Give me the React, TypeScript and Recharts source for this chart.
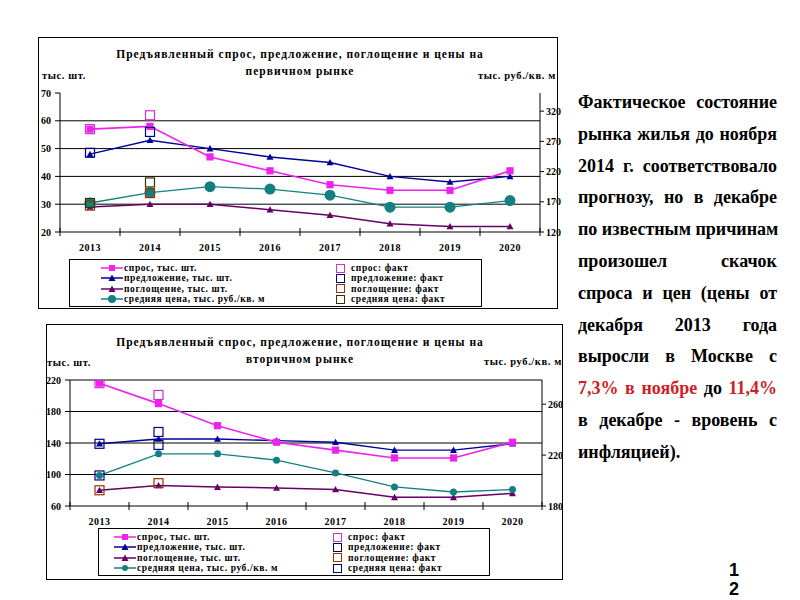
import React from 'react';
import { LineChart, Line, XAxis, YAxis, ReferenceLine } from 'recharts';

const years = ['2013', '2014', '2015', '2016', '2017', '2018', '2019', '2020'];

// первичный рынок
const primDemand = [57, 58, 47, 42, 37, 35, 35, 42];
const primDemandFact = [57, 62, null, null, null, null, null, null];
const primSupply = [48, 53, 50, 47, 45, 40, 38, 40];
const primSupplyFact = [48.5, 56, null, null, null, null, null, null];
const primAbsorb = [29, 30, 30, 28, 26, 23, 22, 22];
const primAbsorbFact = [29.5, 34, null, null, null, null, null, null];
const primPrice = [168, 185, 195, 191, 181, 161, 161, 172];
const primPriceFact = [168, 202, null, null, null, null, null, null];

// вторичный рынок
const secDemand = [216, 190, 162, 141, 131, 121, 121, 141];
const secDemandFact = [216, 201, null, null, null, null, null, null];
const secSupply = [139, 145, 145, 143, 141, 131, 131, 139];
const secSupplyFact = [139, 154, null, null, null, null, null, null];
const secAbsorb = [80, 86, 84, 83, 81, 71, 71, 76];
const secAbsorbFact = [80, 89, null, null, null, null, null, null];
const secPrice = [204, 221, 221, 216, 206, 195, 191, 193];
const secPriceFact = [204, 228, null, null, null, null, null, null];

const primLeftTicks = [20, 30, 40, 50, 60, 70];
const primRightTicks = [120, 170, 220, 270, 320];
const primGrid = [30, 40, 50, 60];
const secLeftTicks = [60, 100, 140, 180, 220];
const secRightTicks = [180, 220, 260];
const secGrid = [100, 140, 180, 220];

const legendLeft = ['спрос, тыс. шт.', 'предложение, тыс. шт.', 'поглощение, тыс. шт.', 'средняя цена, тыс. руб./кв. м'];
const legendRight = ['спрос: факт', 'предложение: факт', 'поглощение: факт', 'средняя цена: факт'];

const noteLines = [
  'Фактическое состояние',
  'рынка жилья до ноября',
  '2014 г. соответствовало',
  'прогнозу, но в декабре',
  'по известным причинам',
  'произошел скачок',
  'спроса и цен (цены от',
  'декабря 2013 года',
  'выросли в Москве с',
  'RED',
  'в декабре  - вровень с',
  'инфляцией).',
];

const C = {
  demand: '#ee22ee',
  supply: '#000099',
  absorb: '#660066',
  price: '#128080',
  demandFact: '#cc33cc',
  supplyFact: '#000080',
  absorbFact: '#993300',
};

const serif = '"Liberation Serif", "DejaVu Serif", serif';

type Series = (number | null)[];

const isEmpty = (p: any) => p.cy == null || Number.isNaN(p.cy) || p.value == null;

const squareDot = (size: number, color: string, filled: boolean) => (p: any) => {
  if (isEmpty(p)) return <g key={`sq${p.index}`} />;
  return (
    <rect
      key={`sq${p.index}`}
      x={p.cx - size / 2}
      y={p.cy - size / 2}
      width={size}
      height={size}
      fill={filled ? color : 'none'}
      stroke={color}
      strokeWidth={1.2}
    />
  );
};

const triDot = (s: number, color: string) => (p: any) => {
  if (isEmpty(p)) return <g key={`tr${p.index}`} />;
  const { cx, cy } = p;
  return <path key={`tr${p.index}`} d={`M${cx},${cy - s}L${cx + s},${cy + s * 0.8}L${cx - s},${cy + s * 0.8}Z`} fill={color} />;
};

const circleDot = (r: number, color: string) => (p: any) => {
  if (isEmpty(p)) return <g key={`ci${p.index}`} />;
  return <circle key={`ci${p.index}`} cx={p.cx} cy={p.cy} r={r} fill={color} />;
};

interface MarketProps {
  demand: Series;
  demandFact: Series;
  supply: Series;
  supplyFact: Series;
  absorb: Series;
  absorbFact: Series;
  price: Series;
  priceFact: Series;
  priceFactColor: string;
  leftDomain: [number, number];
  leftTicks: number[];
  rightDomain: [number, number];
  rightTicks: number[];
  grid: number[];
  width: number;
  height: number;
  margin: { top: number; right: number; bottom: number; left: number };
  half: number;
  xHeight: number;
  priceR: number;
  fontSize: number;
}

const MarketChart = (p: MarketProps) => {
  const data = years.map((year, i) => ({
    year,
    demand: p.demand[i],
    demandFact: p.demandFact[i],
    supply: p.supply[i],
    supplyFact: p.supplyFact[i],
    absorb: p.absorb[i],
    absorbFact: p.absorbFact[i],
    price: p.price[i],
    priceFact: p.priceFact[i],
  }));

  const tickFont = { fontFamily: serif, fontWeight: 700, fontSize: p.fontSize, fill: '#000' };

  const xTick = (t: any) => {
    const { x, y, payload, index } = t;
    return (
      <g key={`xt${index}`}>
        <line x1={x - p.half} x2={x - p.half} y1={y - 4} y2={y + 4} stroke="#000" />
        {index === years.length - 1 && <line x1={x + p.half} x2={x + p.half} y1={y - 4} y2={y + 4} stroke="#000" />}
        <text x={x} y={y + 19} textAnchor="middle" {...tickFont} letterSpacing={0.5}>
          {payload.value}
        </text>
      </g>
    );
  };

  return (
    <LineChart width={p.width} height={p.height} data={data} margin={p.margin}>
      {p.grid.map((v) => (
        <ReferenceLine key={v} yAxisId="l" y={v} stroke="#000" strokeWidth={1} />
      ))}
      <XAxis
        dataKey="year"
        padding={{ left: p.half, right: p.half }}
        axisLine={{ stroke: '#000' }}
        tickLine={false}
        tickSize={0}
        tickMargin={0}
        interval={0}
        height={p.xHeight}
        tick={xTick}
      />
      <YAxis
        yAxisId="l"
        width={40}
        domain={p.leftDomain}
        ticks={p.leftTicks}
        axisLine={{ stroke: '#000' }}
        tickLine={{ stroke: '#000' }}
        tickSize={5}
        tickMargin={4}
        tick={tickFont}
        allowDataOverflow
      />
      <YAxis
        yAxisId="r"
        orientation="right"
        width={30}
        domain={p.rightDomain}
        ticks={p.rightTicks}
        axisLine={{ stroke: '#000' }}
        tickLine={{ stroke: '#000' }}
        tickSize={4}
        tickMargin={2}
        tick={tickFont}
        allowDataOverflow
      />
      <Line yAxisId="l" dataKey="absorb" stroke={C.absorb} strokeWidth={1.5} dot={triDot(3.5, C.absorb)} isAnimationActive={false} />
      <Line yAxisId="r" dataKey="price" stroke={C.price} strokeWidth={1.3} dot={circleDot(p.priceR, C.price)} isAnimationActive={false} />
      <Line yAxisId="l" dataKey="supply" stroke={C.supply} strokeWidth={1.4} dot={triDot(3.5, C.supply)} isAnimationActive={false} />
      <Line yAxisId="l" dataKey="demand" stroke={C.demand} strokeWidth={1.6} dot={squareDot(6, C.demand, true)} isAnimationActive={false} />
      <Line yAxisId="l" dataKey="demandFact" stroke="none" dot={squareDot(9, C.demandFact, false)} isAnimationActive={false} />
      <Line yAxisId="l" dataKey="supplyFact" stroke="none" dot={squareDot(9, C.supplyFact, false)} isAnimationActive={false} />
      <Line yAxisId="l" dataKey="absorbFact" stroke="none" dot={squareDot(9, C.absorbFact, false)} isAnimationActive={false} />
      <Line yAxisId="r" dataKey="priceFact" stroke="none" dot={squareDot(9, p.priceFactColor, false)} isAnimationActive={false} />
    </LineChart>
  );
};

const LegendSymbol = ({ i, priceR }: { i: number; priceR: number }) => {
  const colors = [C.demand, C.supply, C.absorb, C.price];
  const c = colors[i];
  return (
    <svg width={22} height={10} style={{ display: 'block' }}>
      <line x1={0} x2={22} y1={5} y2={5} stroke={c} strokeWidth={1.5} />
      {i === 0 && <rect x={8} y={2} width={6} height={6} fill={c} />}
      {(i === 1 || i === 2) && <path d="M11,1.5L14.5,8L7.5,8Z" fill={c} />}
      {i === 3 && <circle cx={11} cy={5} r={priceR} fill={c} />}
    </svg>
  );
};

const Legend = (p: {
  left: number; top: number; width: number; height: number;
  symX: number; sqX: number; rowTop: number; rowH: number;
  factColors: string[]; priceR: number;
}) => (
  <div style={{ position: 'absolute', left: p.left, top: p.top, width: p.width, height: p.height, border: '1px solid #000', boxSizing: 'border-box' }}>
    {legendLeft.map((t, i) => (
      <div key={t} style={{ position: 'absolute', left: p.symX, top: p.rowTop + i * p.rowH, height: p.rowH, display: 'flex', alignItems: 'center' }}>
        <LegendSymbol i={i} priceR={p.priceR} />
        <span style={{ marginLeft: 1, fontFamily: serif, fontWeight: 700, fontSize: 9.5, letterSpacing: 0.6, whiteSpace: 'nowrap' }}>{t}</span>
      </div>
    ))}
    {legendRight.map((t, i) => (
      <div key={t} style={{ position: 'absolute', left: p.sqX, top: p.rowTop + i * p.rowH, height: p.rowH, display: 'flex', alignItems: 'center' }}>
        <div style={{ width: 7, height: 7, border: `1px solid ${p.factColors[i]}` }} />
        <span style={{ marginLeft: 6, fontFamily: serif, fontWeight: 700, fontSize: 9.5, letterSpacing: 0.6, whiteSpace: 'nowrap' }}>{t}</span>
      </div>
    ))}
  </div>
);

const label = (text: string, style: React.CSSProperties) => (
  <div style={{ position: 'absolute', fontFamily: serif, fontWeight: 700, fontSize: 10.5, letterSpacing: 0.6, whiteSpace: 'nowrap', lineHeight: '14px', ...style }}>
    {text}
  </div>
);

const titleStyle: React.CSSProperties = {
  position: 'absolute', left: 100, width: 400, textAlign: 'center', fontFamily: serif, fontWeight: 700,
  fontSize: 11.5, letterSpacing: 1, lineHeight: '17px', whiteSpace: 'nowrap',
};

const red = { color: '#cc1f26' };

export default function App() {
  return (
    <div style={{ position: 'absolute', left: 0, top: 0, width: 800, height: 600, background: '#fff', overflow: 'hidden' }}>
      {/* первичный рынок */}
      <div style={{ position: 'absolute', left: 38, top: 37, width: 520, height: 272, border: '1px solid #000', boxSizing: 'border-box' }} />
      <div style={{ ...titleStyle, top: 46 }}>
        Предъявленный спрос, предложение, поглощение и цены на
        <br />
        первичном рынке
      </div>
      {label('тыс. шт.', { left: 42, top: 69 })}
      {label('тыс. руб./кв. м', { right: 800 - 556, top: 69 })}
      <div style={{ position: 'absolute', left: 0, top: 0 }}>
        <MarketChart
          demand={primDemand} demandFact={primDemandFact}
          supply={primSupply} supplyFact={primSupplyFact}
          absorb={primAbsorb} absorbFact={primAbsorbFact}
          price={primPrice} priceFact={primPriceFact} priceFactColor="#333300"
          leftDomain={[20, 70]} leftTicks={primLeftTicks}
          rightDomain={[120, 350]} rightTicks={primRightTicks}
          grid={primGrid}
          width={600} height={270}
          margin={{ top: 93, right: 30, bottom: 13, left: 20 }}
          half={30} xHeight={25} priceR={5.5} fontSize={10}
        />
      </div>
      <Legend left={69} top={259} width={413} height={48} symX={31} sqX={266} rowTop={3} rowH={10.3}
        factColors={[C.demandFact, C.supplyFact, C.absorbFact, '#333300']} priceR={4} />

      {/* вторичный рынок */}
      <div style={{ position: 'absolute', left: 46, top: 324, width: 517, height: 256, border: '1px solid #000', boxSizing: 'border-box' }} />
      <div style={{ ...titleStyle, top: 334 }}>
        Предъявленный спрос, предложение, поглощение и цены на
        <br />
        вторичном рынке
      </div>
      {label('тыс. шт.', { left: 47, top: 356 })}
      {label('тыс. руб./кв. м', { right: 800 - 562, top: 355 })}
      <div style={{ position: 'absolute', left: 0, top: 300 }}>
        <MarketChart
          demand={secDemand} demandFact={secDemandFact}
          supply={secSupply} supplyFact={secSupplyFact}
          absorb={secAbsorb} absorbFact={secAbsorbFact}
          price={secPrice} priceFact={secPriceFact} priceFactColor="#000080"
          leftDomain={[60, 220]} leftTicks={secLeftTicks}
          rightDomain={[180, 279]} rightTicks={secRightTicks}
          grid={secGrid}
          width={600} height={240}
          margin={{ top: 80, right: 28, bottom: 12, left: 30 }}
          half={29.5} xHeight={22} priceR={3.5} fontSize={10}
        />
      </div>
      <Legend left={98} top={528} width={392} height={48} symX={15} sqX={234} rowTop={3} rowH={10.3}
        factColors={[C.demandFact, '#000040', C.absorbFact, '#000080']} priceR={3} />

      {/* комментарий */}
      <div style={{ position: 'absolute', left: 578, top: 87, width: 199, fontFamily: serif, fontWeight: 700, fontSize: 18, color: '#000' }}>
        {noteLines.map((t, i) => (
          <div
            key={i}
            style={{
              height: 31.8, lineHeight: '31.8px', whiteSpace: 'nowrap',
              textAlign: 'justify', textAlignLast: i === noteLines.length - 1 ? 'left' : 'justify',
            }}
          >
            {t === 'RED' ? (
              <>
                <span style={red}>7,3% в ноябре</span> до <span style={red}>11,4%</span>
              </>
            ) : (
              t
            )}
          </div>
        ))}
      </div>

      <div style={{ position: 'absolute', left: 729, top: 561, fontFamily: '"Liberation Sans", Arial, sans-serif', fontWeight: 700, fontSize: 18, lineHeight: '19px' }}>
        1
        <br />2
      </div>
    </div>
  );
}
